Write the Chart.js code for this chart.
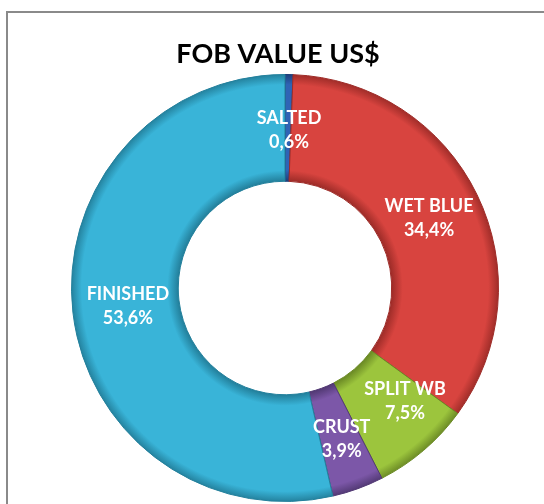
<!DOCTYPE html>
<html>
<head>
<meta charset="utf-8">
<script src="https://cdn.jsdelivr.net/npm/chart.js@4.4.1/dist/chart.umd.min.js"></script>
<style>
  html, body { margin: 0; padding: 0; background: #fff; }
  body { width: 544px; height: 504px; position: relative; overflow: hidden; }
  #frame {
    position: absolute; left: 6px; top: 11px; width: 600px; height: 600px;
    border: 2px solid #8a8a8a; box-sizing: border-box;
  }
  #fob_chart { position: absolute; left: 0; top: 0; }
</style>
</head>
<body>
<div id="frame"></div>
<canvas id="fob_chart" width="544" height="504"></canvas>
<script>
const categories = ["SALTED", "WET BLUE", "SPLIT WB", "CRUST", "FINISHED"];
const shares = [0.6, 34.4, 7.5, 3.9, 53.6];
const colors = ["#2f63b5", "#d8443f", "#9cc53d", "#7c57a8", "#39b4d8"];
const edges = ["#1d3f7a", "#9e2c28", "#6b8a25", "#523974", "#23809c"];
// nudges of the data labels from the ring middle (px), as placed in the original
const labelShift = [[1, 2], [0, 0], [16, -9], [2, 1], [2, 0]];

// radial gradient: darker rim on both edges, like the bevel in the original
function ringFill(ctx) {
  const chart = ctx.chart;
  const a = chart.chartArea;
  if (!a) return colors[ctx.dataIndex];
  const cx = (a.left + a.right) / 2;
  const cy = (a.top + a.bottom) / 2;
  const r = Math.min(a.right - a.left, a.bottom - a.top) / 2;
  const g = chart.ctx.createRadialGradient(cx, cy, r * 0.5, cx, cy, r);
  g.addColorStop(0, edges[ctx.dataIndex]);
  g.addColorStop(0.1, colors[ctx.dataIndex]);
  g.addColorStop(0.9, colors[ctx.dataIndex]);
  g.addColorStop(1, edges[ctx.dataIndex]);
  return g;
}

// title + slice labels
const labelsPlugin = {
  id: "fobLabels",
  afterDraw(chart) {
    const c = chart.ctx;
    c.save();
    c.textAlign = "center";
    c.textBaseline = "middle";
    c.fillStyle = "#000";
    c.font = "bold 27px Lato";
    c.fillText("FOB VALUE US$", 278, 54);

    c.fillStyle = "#fff";
    c.font = "bold 18px Lato";
    chart.getDatasetMeta(0).data.forEach((arc, i) => {
      const p = arc.tooltipPosition();
      const x = p.x + labelShift[i][0];
      const y = p.y + labelShift[i][1];
      const txt = shares[i].toFixed(1).replace(".", ",") + "%";
      c.fillText(categories[i], x, y - 12);
      c.fillText(txt, x, y + 12);
    });
    c.restore();
  },
};

new Chart(document.getElementById("fob_chart"), {
  type: "doughnut",
  data: {
    labels: categories,
    datasets: [
      {
        data: shares,
        backgroundColor: ringFill,
        borderColor: edges,
        borderWidth: 1,
      },
    ],
  },
  options: {
    responsive: false,
    animation: false,
    cutout: "50%",
    layout: {
      padding: { top: 74, bottom: 2, left: 71, right: 45 },
    },
    plugins: {
      legend: { display: false },
      title: { display: false },
      tooltip: { enabled: false },
    },
  },
  plugins: [labelsPlugin],
});
</script>
</body>
</html>
